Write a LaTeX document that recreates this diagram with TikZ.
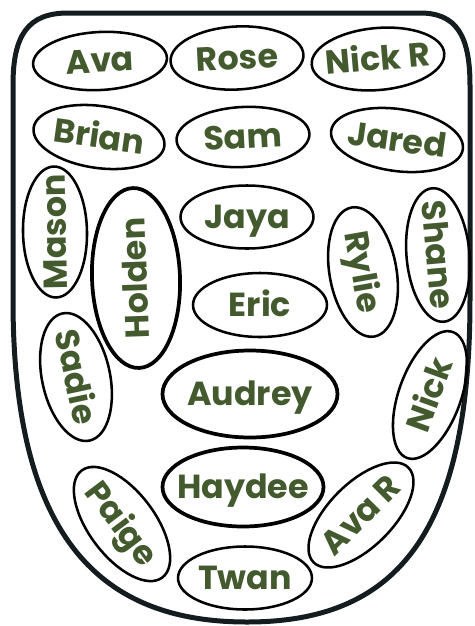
\documentclass[tikz,border=0pt]{standalone}
\usepackage{fontspec}
\setmainfont{Poppins}
\usetikzlibrary{shapes.geometric}
\definecolor{leaf}{HTML}{435A2E}
\definecolor{ink}{HTML}{141C1F}

\begin{document}
\begin{tikzpicture}[
    x=0.75pt, y=-0.75pt,
    seat/.style 2 args={ellipse, draw, line width=1.9pt, inner sep=0pt,
      minimum width=#1*0.75pt, minimum height=#2*0.75pt,
      text=leaf, font=\bfseries\fontsize{25}{30}\selectfont,
      text height=17pt, text depth=0pt},
    bigseat/.style 2 args={seat={#1}{#2}, line width=2.8pt},
    tongue/.style={draw=ink, line width=3.75pt, line join=round}
  ]
  \useasboundingbox (0,0) rectangle (475,626);

  % outline of the room
  \draw[tongue] (13,300) -- (13,85) .. controls (13,35) and (28,13) .. (68,13)
    -- (420,13) .. controls (456,13) and (470,35) .. (470,85)
    -- (470,300) .. controls (470,540) and (392,622) .. (247,622)
    .. controls (102,622) and (13,540) .. (13,300) -- cycle;

  % top rows
  \node[seat={134}{58}, rotate=3] (ava) at (100,61) {\makebox[0pt]{Ava}};
  \node[seat={133}{63}, rotate=3] (rose) at (237,58) {\makebox[0pt]{Rose}};
  \node[seat={133}{62}, rotate=5] (nickr) at (378,59) {\makebox[0pt]{Nick R}};
  \node[seat={132}{62}, rotate=-8] (brian) at (99,137) {\makebox[0pt]{Brian}};
  \node[seat={133}{60}, rotate=3] (sam) at (243,137) {\makebox[0pt]{Sam}};
  \node[seat={133}{62}, rotate=-8] (jared) at (397,140) {\makebox[0pt]{Jared}};

  % left side
  \node[seat={131}{64}, rotate=91] (mason) at (55,232) {\makebox[0pt]{Mason}};
  \node[bigseat={180}{88}, rotate=92] (holden) at (136,278) {\makebox[0pt]{Holden}};
  \node[seat={130}{68}, rotate=-78] (sadie) at (76,377) {\makebox[0pt]{Sadie}};
  \node[seat={134}{66}, rotate=-53] (paige) at (122,524) {\makebox[0pt]{Paige}};

  % middle
  \node[seat={133}{63}] (jaya) at (247,217) {\makebox[0pt]{Jaya}};
  \node[seat={134}{64}] (eric) at (260,305) {\makebox[0pt]{Eric}};
  \node[bigseat={175}{87}] (audrey) at (250,394) {\makebox[0pt]{Audrey}};
  \node[bigseat={161}{79}] (haydee) at (243,487) {\makebox[0pt]{Haydee}};
  \node[seat={134}{63}] (twan) at (245,578) {\makebox[0pt]{Twan}};

  % right side
  \node[seat={131}{67}, rotate=-80] (rylie) at (363,272) {\makebox[0pt]{Rylie}};
  \node[seat={134}{63}, rotate=-85] (shane) at (438,255) {\makebox[0pt]{Shane}};
  \node[seat={134}{62}, rotate=70] (nick) at (430,395) {\makebox[0pt]{Nick}};
  \node[seat={134}{64}, rotate=45] (avar) at (361,515) {\makebox[0pt]{Ava R}};
\end{tikzpicture}
\end{document}
